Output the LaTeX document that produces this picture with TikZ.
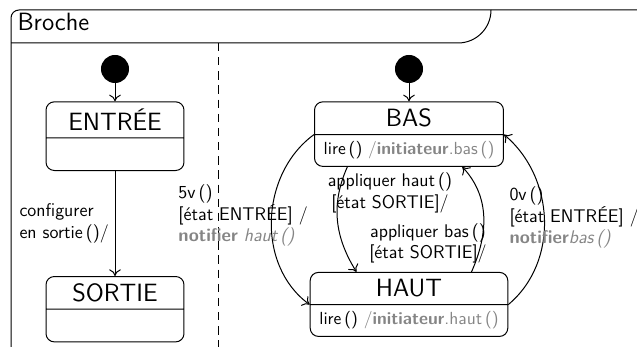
\documentclass[tikz,border=0pt]{standalone}
\usepackage{fontspec}
\usetikzlibrary{positioning, arrows.meta, shapes.multipart}
\definecolor{actiongray}{HTML}{858585}
\newcommand{\act}[1]{\textcolor{actiongray}{#1}}
\newcommand{\statename}[1]{{\fontsize{15}{18}\selectfont #1}}

\begin{document}
\begin{tikzpicture}[
    x=0.6pt, y=-0.6pt,
    >={To[length=4pt, width=7pt]},
    line width=0.6pt,
    node distance=11pt and 10pt,
    statebox/.style={rectangle split, rectangle split parts=2, draw, rounded corners=5pt,
        font=\sffamily\fontsize{10.5}{13}\selectfont, inner xsep=5.5pt, inner ysep=4pt,
        rectangle split empty part height=11pt},
    init/.style={draw, circle, fill=black, minimum size=16.2pt, inner sep=0pt},
    trans/.style={->},
    lbl/.style={font=\sffamily\fontsize{11}{13}\selectfont, align=left, inner sep=0pt},
    title/.style={font=\sffamily\fontsize{15}{18}\selectfont, inner sep=0pt},
]
\useasboundingbox (0,0) rectangle (637,347);
\clip (0,0) rectangle (637,347);

% === FRAME ===
\draw[rounded corners=4.8pt] (11,360) -- (11,10) -- (650,10);
\draw[rounded corners=19.8pt] (11,43) -| (491,10);
\node[title, anchor=base west] (broche) at (17,31) {Broche};
\draw[dash pattern=on 5pt off 3.5pt] (218,43) -- (218,360);

% === LEFT REGION ===
\node[init] (init-l) at (115,69) {};
\node[statebox, minimum width=82.8pt, below=11pt of init-l]
    (entree) {\statename{ENTRÉE}\nodepart{two}};
\node[statebox, minimum width=82.8pt, below=63pt of entree]
    (sortie) {\statename{SORTIE}\nodepart{two}};

\draw[trans] (init-l) -- (entree.north);
\draw[trans] (entree.south) -- (sortie.north);

\node[lbl, anchor=west] (lbl-cfg) at (19,223.5) {configurer\\en sortie\,()/};

% === RIGHT REGION ===
\node[init] (init-r) at (409,69) {};
\node[statebox, below=11pt of init-r]
    (bas) {\statename{BAS}\nodepart{two}lire\,() \act{/\textbf{initiateur}.bas\,()}};
\node[statebox, below=63pt of bas]
    (haut) {\statename{HAUT}\nodepart{two}lire\,() \act{/\textbf{initiateur}.haut\,()}};

\draw[trans] (init-r) -- (bas.north);
\draw[trans] (bas.text split west) to[out=216, in=144] (haut.text split west);
\draw[trans] ([xshift=-37pt]bas.south) to[out=246, in=122] ([xshift=-31.5pt]haut.north);
\draw[trans] ([xshift=37.5pt]haut.north) to[out=66, in=-47] ([xshift=32pt]bas.south);
\draw[trans] (haut.text split east) to[out=40, in=-40] (bas.text split east);

\node[lbl, anchor=west] (lbl-high) at (178,215.5)
    {5v\,()\\{[}état ENTRÉE{]} /\\\act{\textbf{notifier} \textit{haut\,()}}};
\node[lbl, align=center] (lbl-up) at (390,193) {appliquer haut\,()\\{[}état SORTIE{]}/};
\node[lbl, align=center] (lbl-down) at (428,243.5) {appliquer bas\,()\\{[}état SORTIE{]}/};
\node[lbl, anchor=west] (lbl-low) at (509,217.5)
    {0v\,()\\{[}état ENTRÉE{]} /\\\act{\textbf{notifier}\textit{bas\,()}}};

\end{tikzpicture}
\end{document}
